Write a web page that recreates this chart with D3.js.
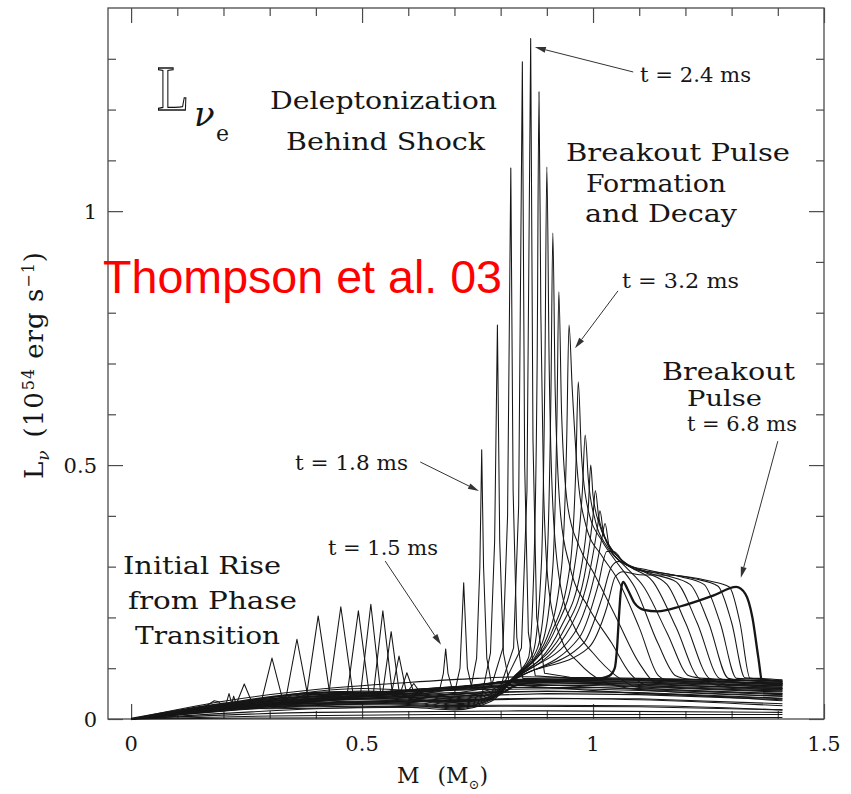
<!DOCTYPE html>
<html><head><meta charset="utf-8">
<script src="https://cdn.jsdelivr.net/npm/d3@7"></script>
<style>html,body{margin:0;padding:0;background:#fff;} svg{display:block;}</style>
</head><body>
<svg id="chart" width="851" height="794"></svg>
<script>
// Axis ticks
const massTicks = [0, 0.5, 1, 1.5];
const massTickLabels = ["0", "0.5", "1", "1.5"];
const massMinor = [0.1, 0.2, 0.3, 0.4, 0.6, 0.7, 0.8, 0.9, 1.1, 1.2, 1.3, 1.4];
const lumTicks = [0, 0.5, 1];
const lumTickLabels = ["0", "0.5", "1"];
const lumMinor = [0.1, 0.2, 0.3, 0.4, 0.6, 0.7, 0.8, 0.9, 1.1, 1.2, 1.3];

// Luminosity profiles L(M), [mass (Msun), L (1e54 erg/s)]
// earliest snapshots: low luminosity everywhere
const quietProfiles = [
  [[0,0],[0.3,0.002],[0.8,0.003],[1.41,0.003]],
  [[0,0],[0.3,0.006],[0.7,0.009],[1.41,0.009]],
  [[0,0],[0.4,0.013],[0.9,0.016],[1.41,0.013]],
  [[0,0],[0.4,0.02],[0.8,0.027],[1.1,0.026],[1.41,0.018]],
  [[0,0],[0.3,0.022],[0.6,0.034],[0.9,0.041],[1.1,0.038],[1.41,0.026]],
  [[0,0],[0.3,0.028],[0.6,0.045],[0.9,0.054],[1.1,0.051],[1.41,0.036]],
  [[0,0],[0.2,0.035],[0.4,0.058],[0.6,0.072],[0.75,0.08],[0.85,0.083],[1.0,0.08],[1.41,0.07]]
];
// initial rise from the phase transition
const riseProfiles = [
  [[0,0],[0.1,0.012],[0.15,0.02],[0.17,0.03],[0.18,0.036],[0.19,0.034],[0.2,0.022],[0.3,0.02],[0.5,0.022],[0.8,0.025],[1.1,0.024],[1.41,0.018]],
  [[0,0],[0.15,0.02],[0.205,0.028],[0.212,0.05],[0.218,0.03],[0.222,0.045],[0.228,0.028],[0.35,0.03],[0.6,0.035],[0.9,0.04],[1.1,0.04],[1.41,0.03]],
  [[0,0],[0.2,0.026],[0.228,0.03],[0.245,0.069],[0.262,0.032],[0.4,0.036],[0.7,0.045],[0.9,0.05],[1.1,0.048],[1.41,0.038]],
  [[0,0],[0.25,0.032],[0.283,0.038],[0.305,0.12],[0.327,0.042],[0.45,0.045],[0.7,0.052],[0.9,0.055],[1.1,0.052],[1.41,0.041]],
  [[0,0],[0.3,0.036],[0.336,0.045],[0.359,0.157],[0.382,0.048],[0.5,0.05],[0.75,0.058],[0.95,0.06],[1.1,0.056],[1.41,0.045]],
  [[0,0],[0.35,0.04],[0.38,0.048],[0.405,0.203],[0.43,0.05],[0.55,0.052],[0.8,0.062],[1.0,0.062],[1.1,0.06],[1.41,0.05]],
  [[0,0],[0.4,0.042],[0.428,0.05],[0.454,0.221],[0.48,0.052],[0.6,0.055],[0.82,0.066],[1.0,0.066],[1.1,0.063],[1.41,0.053]],
  [[0,0],[0.44,0.044],[0.468,0.05],[0.492,0.213],[0.515,0.052],[0.65,0.058],[0.83,0.069],[1.0,0.069],[1.1,0.066],[1.41,0.057]],
  [[0,0],[0.47,0.045],[0.497,0.052],[0.519,0.226],[0.54,0.054],[0.68,0.06],[0.83,0.072],[1.1,0.069],[1.41,0.06]],
  [[0,0],[0.5,0.046],[0.525,0.054],[0.545,0.213],[0.565,0.055],[0.7,0.062],[0.83,0.074],[1.1,0.071],[1.41,0.063]],
  [[0,0],[0.52,0.047],[0.545,0.055],[0.563,0.172],[0.58,0.056],[0.72,0.064],[0.83,0.075],[1.1,0.073],[1.41,0.066]],
  [[0,0],[0.54,0.048],[0.565,0.056],[0.58,0.124],[0.595,0.057],[0.72,0.065],[0.83,0.076],[1.1,0.075],[1.41,0.068]],
  [[0,0],[0.56,0.05],[0.585,0.057],[0.597,0.091],[0.61,0.058],[0.74,0.066],[0.83,0.077],[1.1,0.077],[1.41,0.071]],
  [[0,0],[0.58,0.05],[0.6,0.056],[0.612,0.07],[0.622,0.057],[0.75,0.067],[0.84,0.078],[1.1,0.079],[1.41,0.074]]
];
// deleptonization burst behind the shock (1.5 - 2.4 ms)
const burstProfiles = [
  [[0,0],[0.3,0.035],[0.6,0.05],[0.668,0.058],[0.676,0.09],[0.681,0.138],[0.686,0.09],[0.695,0.06],[0.76,0.062],[0.84,0.066],[1.1,0.05],[1.41,0.04]],
  [[0,0],[0.3,0.028],[0.6,0.038],[0.7,0.05],[0.712,0.1],[0.72,0.268],[0.728,0.1],[0.738,0.06],[0.84,0.07],[1.1,0.058],[1.41,0.048]],
  [[0,0],[0.3,0.04],[0.6,0.055],[0.735,0.058],[0.748,0.12],[0.755,0.3],[0.759,0.53],[0.763,0.3],[0.77,0.12],[0.78,0.07],[0.85,0.075],[1.1,0.064],[1.41,0.055]],
  [[0,0],[0.3,0.024],[0.6,0.032],[0.76,0.05],[0.778,0.13],[0.787,0.35],[0.793,0.776],[0.798,0.35],[0.806,0.13],[0.818,0.075],[0.9,0.076],[1.1,0.068],[1.41,0.06]],
  [[0,0],[0.3,0.036],[0.6,0.05],[0.78,0.065],[0.805,0.14],[0.815,0.4],[0.822,1.085],[0.827,0.45],[0.835,0.16],[0.848,0.08],[0.95,0.078],[1.1,0.072],[1.41,0.065]],
  [[0,0],[0.3,0.027],[0.6,0.036],[0.8,0.065],[0.828,0.14],[0.839,0.42],[0.847,1.294],[0.852,0.5],[0.86,0.17],[0.875,0.085],[0.95,0.08],[1.1,0.076],[1.41,0.07]],
  [[0,0],[0.3,0.032],[0.6,0.045],[0.81,0.075],[0.845,0.14],[0.857,0.45],[0.865,1.34],[0.87,0.55],[0.878,0.2],[0.895,0.09],[0.95,0.082],[1.1,0.08],[1.41,0.075]]
];
// breakout pulse formation and decay (2.4 - 6.8 ms)
const decayProfiles = [
  [[0,0],[0.25,0.032],[0.5,0.05],[0.62,0.046],[0.7,0.04],[0.78,0.05],[0.83,0.085],[0.86,0.12],[0.872,0.3],[0.879,0.7],[0.883,1.235],[0.887,0.8],[0.893,0.45],[0.905,0.25],[0.93,0.16],[0.97,0.11],[1.02,0.075],[1.1,0.058],[1.41,0.045]],
  [[0,0],[0.25,0.027],[0.5,0.04],[0.62,0.037],[0.7,0.03],[0.78,0.045],[0.83,0.084],[0.87,0.13],[0.888,0.3],[0.896,0.7],[0.9,1.087],[0.905,0.7],[0.913,0.42],[0.93,0.26],[0.96,0.18],[1.0,0.13],[1.05,0.085],[1.1,0.062],[1.41,0.05]],
  [[0,0],[0.25,0.022],[0.5,0.03],[0.62,0.028],[0.7,0.022],[0.78,0.04],[0.83,0.083],[0.88,0.14],[0.9,0.3],[0.909,0.65],[0.913,0.957],[0.918,0.65],[0.93,0.4],[0.95,0.3],[0.99,0.22],[1.04,0.15],[1.08,0.09],[1.12,0.066],[1.41,0.055]],
  [[0,0],[0.25,0.034],[0.5,0.055],[0.62,0.05],[0.7,0.045],[0.78,0.055],[0.83,0.082],[0.89,0.15],[0.913,0.3],[0.922,0.6],[0.926,0.841],[0.932,0.6],[0.945,0.42],[0.97,0.34],[1.0,0.29],[1.05,0.2],[1.1,0.11],[1.14,0.07],[1.41,0.06]],
  [[0,0],[0.25,0.025],[0.5,0.035],[0.62,0.032],[0.7,0.026],[0.78,0.042],[0.83,0.082],[0.9,0.16],[0.932,0.3],[0.943,0.55],[0.948,0.776],[0.955,0.65],[0.965,0.5],[0.985,0.38],[1.02,0.32],[1.05,0.28],[1.1,0.18],[1.142,0.085],[1.17,0.074],[1.41,0.065]],
  [[0,0],[0.25,0.03],[0.5,0.045],[0.62,0.041],[0.7,0.036],[0.78,0.048],[0.83,0.081],[0.91,0.17],[0.95,0.3],[0.963,0.5],[0.968,0.664],[0.975,0.52],[0.99,0.41],[1.02,0.35],[1.05,0.31],[1.09,0.26],[1.14,0.15],[1.179,0.085],[1.21,0.078],[1.41,0.07]],
  [[0,0],[0.25,0.02],[0.5,0.025],[0.62,0.022],[0.7,0.018],[0.78,0.035],[0.83,0.081],[0.92,0.18],[0.96,0.3],[0.977,0.45],[0.983,0.559],[0.99,0.47],[1.005,0.39],[1.03,0.34],[1.07,0.3],[1.11,0.26],[1.16,0.17],[1.208,0.085],[1.24,0.08],[1.41,0.075]],
  [[0,0],[0.25,0.036],[0.5,0.06],[0.62,0.055],[0.7,0.048],[0.78,0.058],[0.83,0.08],[0.93,0.18],[0.975,0.3],[0.99,0.42],[0.995,0.5],[1.0,0.44],[1.015,0.38],[1.04,0.335],[1.08,0.3],[1.13,0.27],[1.18,0.18],[1.23,0.08],[1.3,0.062],[1.41,0.058]],
  [[0,0],[0.25,0.026],[0.5,0.038],[0.62,0.035],[0.7,0.028],[0.78,0.043],[0.83,0.08],[0.94,0.18],[0.985,0.3],[1.0,0.4],[1.005,0.45],[1.012,0.4],[1.03,0.35],[1.06,0.315],[1.11,0.29],[1.16,0.265],[1.2,0.19],[1.252,0.08],[1.3,0.067],[1.41,0.062]],
  [[0,0],[0.25,0.031],[0.5,0.048],[0.62,0.044],[0.7,0.038],[0.78,0.05],[0.83,0.079],[0.95,0.18],[0.995,0.3],[1.01,0.38],[1.015,0.41],[1.022,0.37],[1.04,0.33],[1.07,0.305],[1.13,0.285],[1.18,0.27],[1.225,0.19],[1.274,0.08],[1.32,0.072],[1.41,0.068]],
  [[0,0],[0.25,0.023],[0.5,0.028],[0.62,0.026],[0.7,0.02],[0.78,0.038],[0.83,0.079],[0.96,0.17],[1.005,0.29],[1.02,0.36],[1.026,0.385],[1.035,0.34],[1.06,0.31],[1.1,0.295],[1.16,0.282],[1.21,0.265],[1.25,0.19],[1.293,0.08],[1.33,0.076],[1.41,0.072]],
  [[0,0],[0.25,0.033],[0.5,0.052],[0.62,0.048],[0.7,0.042],[0.78,0.053],[0.83,0.078],[0.97,0.16],[1.01,0.26],[1.03,0.33],[1.045,0.33],[1.07,0.305],[1.12,0.293],[1.19,0.28],[1.24,0.265],[1.275,0.19],[1.311,0.08],[1.35,0.079],[1.41,0.075]],
  [[0,0],[0.25,0.028],[0.5,0.042],[0.62,0.039],[0.7,0.033],[0.78,0.046],[0.83,0.078],[0.98,0.15],[1.02,0.24],[1.04,0.3],[1.055,0.31],[1.09,0.295],[1.15,0.287],[1.22,0.276],[1.27,0.262],[1.3,0.19],[1.329,0.081],[1.36,0.08],[1.41,0.077]],
  [[0,0],[0.25,0.024],[0.5,0.032],[0.62,0.03],[0.7,0.024],[0.78,0.04],[0.83,0.077],[0.99,0.14],[1.03,0.22],[1.048,0.28],[1.065,0.29],[1.1,0.284],[1.17,0.283],[1.25,0.272],[1.295,0.26],[1.318,0.19],[1.34,0.08],[1.37,0.078],[1.41,0.073]]
];
// t = 6.8 ms, breakout pulse
const pulseProfile = [[0,0],[0.2,0.03],[0.45,0.053],[0.58,0.05],[0.62,0.036],[0.7,0.034],[0.77,0.04],[0.8,0.05],[0.84,0.068],[0.95,0.076],[1.0,0.078],[1.035,0.085],[1.047,0.1],[1.052,0.14],[1.056,0.2],[1.06,0.25],[1.065,0.27],[1.075,0.255],[1.09,0.228],[1.11,0.215],[1.14,0.212],[1.19,0.222],[1.26,0.243],[1.31,0.26],[1.33,0.246],[1.345,0.2],[1.358,0.12],[1.367,0.07],[1.41,0.068]];

const svg = d3.select("#chart");
const x = d3.scaleLinear().domain([-0.05, 1.5]).range([108, 824]);
const y = d3.scaleLinear().domain([0, 1.4]).range([719, 8]);

const serif = "'DejaVu Serif', serif";
const ink = "#161616";

// frame
svg.append("rect")
  .attr("x", x(-0.05)).attr("y", y(1.4))
  .attr("width", x(1.5) - x(-0.05)).attr("height", y(0) - y(1.4))
  .attr("fill", "none").attr("stroke", "#4a4a4a").attr("stroke-width", 1.3);

// inward ticks on all four sides
function ticks(axis, tx, ty) {
  svg.append("g").attr("transform", `translate(${tx},${ty})`)
    .call(axis)
    .call(g => g.select(".domain").remove())
    .call(g => g.selectAll("line").attr("stroke", "#4a4a4a").attr("stroke-width", 1.2))
    .call(g => g.selectAll("text").remove());
}
ticks(d3.axisBottom(x).tickValues(massTicks).tickSize(-15), 0, y(0));
ticks(d3.axisBottom(x).tickValues(massMinor).tickSize(-8), 0, y(0));
ticks(d3.axisTop(x).tickValues(massTicks).tickSize(-15), 0, y(1.4));
ticks(d3.axisTop(x).tickValues(massMinor).tickSize(-8), 0, y(1.4));
ticks(d3.axisLeft(y).tickValues(lumTicks).tickSize(-15), x(-0.05), 0);
ticks(d3.axisLeft(y).tickValues(lumMinor).tickSize(-8), x(-0.05), 0);
ticks(d3.axisRight(y).tickValues(lumTicks).tickSize(-15), x(1.5), 0);
ticks(d3.axisRight(y).tickValues(lumMinor).tickSize(-8), x(1.5), 0);

// tick labels
svg.append("g").selectAll("text").data(massTicks).join("text")
  .attr("x", d => x(d)).attr("y", 751)
  .attr("text-anchor", "middle").attr("font-family", serif).attr("font-size", 21).attr("fill", ink)
  .text((d, i) => massTickLabels[i]);
svg.append("g").selectAll("text").data(lumTicks).join("text")
  .attr("x", 97).attr("y", d => y(d) + 8)
  .attr("text-anchor", "end").attr("font-family", serif).attr("font-size", 21).attr("fill", ink)
  .text((d, i) => lumTickLabels[i]);

// profiles: sharp spikes drawn piecewise linear, smooth shoulders monotone
const spike = d3.line().x(d => x(d[0])).y(d => y(d[1]));
const smooth = d3.line().x(d => x(d[0])).y(d => y(d[1])).curve(d3.curveMonotoneX);
const curves = svg.append("g").attr("fill", "none").attr("stroke", ink).attr("stroke-linejoin", "round");
[[quietProfiles, smooth], [riseProfiles, spike], [burstProfiles, spike], [decayProfiles, smooth]].forEach(([set, gen]) => {
  curves.append("g").selectAll("path").data(set).join("path")
    .attr("d", gen).attr("stroke-width", 1.05);
});
curves.append("path").attr("d", smooth(pulseProfile)).attr("stroke-width", 2.3);

// axis titles
const yTitle = svg.append("text")
  .attr("transform", "translate(43,479) rotate(-90)")
  .attr("font-family", serif).attr("font-size", 26).attr("letter-spacing", 1).attr("fill", ink);
yTitle.append("tspan").text("L");
yTitle.append("tspan").attr("dy", 6).attr("font-size", 17).attr("font-style", "italic").text("ν");
yTitle.append("tspan").attr("dy", -6).attr("dx", 12).text("(10");
yTitle.append("tspan").attr("dy", -9).attr("dx", 1).attr("font-size", 16).text("54");
yTitle.append("tspan").attr("dy", 9).attr("dx", 9).text("erg s");
yTitle.append("tspan").attr("dy", -9).attr("font-size", 16).text("−1");
yTitle.append("tspan").attr("dy", 9).text(")");

const xTitle = svg.append("text").attr("x", 397).attr("y", 783)
  .attr("font-family", serif).attr("font-size", 22).attr("fill", ink);
xTitle.append("tspan").text("M");
xTitle.append("tspan").attr("dx", 18).text("(M");
xTitle.append("tspan").attr("dy", 6).attr("font-size", 13).text("⊙");
xTitle.append("tspan").attr("dy", -6).text(")");

// species label
svg.append("text").attr("x", 157).attr("y", 110)
  .attr("font-family", "'Liberation Serif', serif").attr("font-size", 64)
  .attr("textLength", 32).attr("lengthAdjust", "spacingAndGlyphs")
  .attr("fill", "#fff").attr("stroke", "#111").attr("stroke-width", 1.3).text("L");
svg.append("text").attr("x", 194).attr("y", 126)
  .attr("font-family", serif).attr("font-style", "italic").attr("font-size", 34).attr("fill", ink).text("ν");
svg.append("text").attr("x", 216).attr("y", 141)
  .attr("font-family", serif).attr("font-size", 22).attr("fill", ink).text("e");

// annotations: [text, left x, baseline y, width, size]
const notes = [
  ["Deleptonization", 270, 109, 227, 24],
  ["Behind Shock", 286, 150, 199, 24],
  ["Breakout Pulse", 566, 161, 224, 24],
  ["Formation", 586, 192, 140, 24],
  ["and Decay", 585, 222, 152, 24],
  ["t = 2.4 ms", 640, 82, 111, 20],
  ["t = 3.2 ms", 622, 288, 117, 20],
  ["Breakout", 662, 380, 133, 24],
  ["Pulse", 687, 406, 75, 23],
  ["t = 6.8 ms", 687, 431, 110, 20],
  ["t = 1.8 ms", 295, 470, 113, 20],
  ["t = 1.5 ms", 328, 555, 110, 20],
  ["Initial Rise", 123, 574, 158, 24],
  ["from Phase", 128, 609, 169, 24],
  ["Transition", 135, 644, 145, 24]
];
svg.append("g").selectAll("text").data(notes).join("text")
  .attr("x", d => d[1]).attr("y", d => d[2])
  .attr("textLength", d => d[3]).attr("lengthAdjust", "spacingAndGlyphs")
  .attr("font-family", serif).attr("font-size", d => d[4]).attr("fill", ink)
  .text(d => d[0]);

// arrows: [tail M, tail L, head M, head L]
const arrows = [
  [1.087, 1.274, 0.874, 1.323],
  [1.054, 0.843, 0.961, 0.730],
  [0.626, 0.506, 0.753, 0.449],
  [0.550, 0.311, 0.671, 0.146],
  [1.400, 0.547, 1.320, 0.278]
];
const arr = svg.append("g");
arrows.forEach(a => {
  const x1 = x(a[0]), y1 = y(a[1]), x2 = x(a[2]), y2 = y(a[3]);
  const ang = Math.atan2(y2 - y1, x2 - x1);
  const len = 11, hw = 3;
  const bx = x2 - len * Math.cos(ang), by = y2 - len * Math.sin(ang);
  arr.append("line").attr("x1", x1).attr("y1", y1).attr("x2", bx).attr("y2", by)
    .attr("stroke", "#333").attr("stroke-width", 1);
  arr.append("path")
    .attr("d", `M${x2},${y2}L${bx - hw * Math.sin(ang)},${by + hw * Math.cos(ang)}L${bx + hw * Math.sin(ang)},${by - hw * Math.cos(ang)}Z`)
    .attr("fill", "#333");
});

// citation
svg.append("text").attr("x", 103).attr("y", 293)
  .attr("font-family", "'Liberation Sans', Arial, sans-serif").attr("font-size", 47)
  .attr("textLength", 399).attr("lengthAdjust", "spacingAndGlyphs")
  .attr("fill", "#ff0000").text("Thompson et al. 03");
</script></body></html>
